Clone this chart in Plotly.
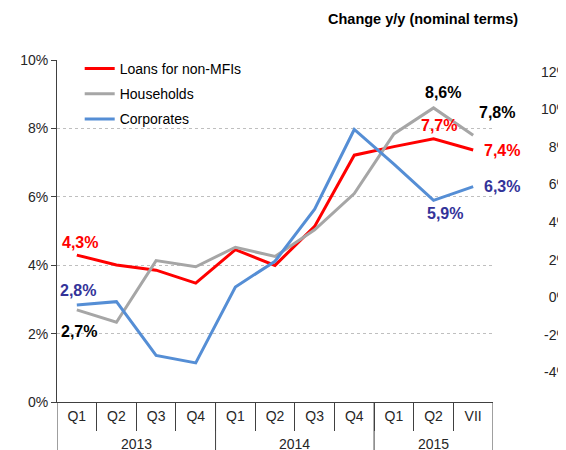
import plotly.graph_objects as go

years = ["2013"] * 4 + ["2014"] * 4 + ["2015"] * 3
periods = ["Q1", "Q2", "Q3", "Q4", "Q1", "Q2", "Q3", "Q4", "Q1", "Q2", "VII"]

loans = [4.3, 4.01, 3.86, 3.48, 4.46, 4.0, 5.14, 7.22, 7.47, 7.7, 7.37]
households = [2.7, 2.34, 4.14, 3.96, 4.53, 4.26, 5.04, 6.1, 7.84, 8.6, 7.8]
corporates = [2.84, 2.94, 1.37, 1.15, 3.37, 4.12, 5.64, 7.97, 6.96, 5.9, 6.3]

left_ticks = [0, 2, 4, 6, 8, 10]
right_ticks = [-6, -4, -2, 0, 2, 4, 6, 8, 10, 12]

FONT = "Liberation Sans, Arial, sans-serif"
RED = "#FF0000"
GRAY = "#A6A6A6"
BLUE = "#558ED5"
AX = "#404040"

n = len(periods)
xi = list(range(n))

fig = go.Figure()
fig.add_trace(go.Scatter(x=xi, y=loans, name="Loans for non-MFIs", mode="lines",
                         line=dict(color=RED, width=3), legendgroup="a"))
fig.add_trace(go.Scatter(x=xi, y=households, name="Households", mode="lines",
                         line=dict(color=GRAY, width=3), legendgroup="b"))
fig.add_trace(go.Scatter(x=xi, y=corporates, name="Corporates", mode="lines",
                         line=dict(color=BLUE, width=3), legendgroup="c"))
# carrier for the right-hand axis
fig.add_trace(go.Scatter(x=[0], y=[None], yaxis="y2",
                         showlegend=False, hoverinfo="skip", mode="lines"))


def lab(i, series, text, color, xs, ys):
    fig.add_annotation(x=i, y=series[i], xref="x", yref="y", text="<b>%s</b>" % text,
                       showarrow=False, xshift=xs, yshift=ys,
                       font=dict(family=FONT, size=16, color=color))


def fmt(v):
    return ("%.1f%%" % v).replace(".", ",")


lab(0, loans, fmt(loans[0]), RED, 3, 13)
lab(0, corporates, fmt(corporates[0]), "#333399", 1, 15)
lab(0, households, fmt(households[0]), "#000000", 2, -22)
lab(n - 2, households, fmt(households[n - 2]), "#000000", 9, 15)
lab(n - 2, loans, fmt(loans[n - 2]), RED, 5, 13)
lab(n - 2, corporates, fmt(corporates[n - 2]), "#333399", 11, -13)
lab(n - 1, households, fmt(households[n - 1]), "#000000", 24, 23)
lab(n - 1, loans, fmt(loans[n - 1]), RED, 29, 0)
lab(n - 1, corporates, fmt(corporates[n - 1]), "#333399", 29, 0)

# year group labels and dividers (derived from the years list)
groups = []
for i, yv in enumerate(years):
    if not groups or groups[-1][0] != yv:
        groups.append([yv, i, i])
    else:
        groups[-1][2] = i
Y_AXIS = 9.7 / 352
for yv, a, b in groups:
    fig.add_annotation(x=(a + b) / 2, y=-0.0909, xref="x", yref="paper", text=yv,
                       showarrow=False, yanchor="middle",
                       font=dict(family=FONT, size=14, color="#262626"))
bounds = [g[1] - 0.5 for g in groups] + [groups[-1][2] + 0.5]
for bx in bounds:
    fig.add_shape(type="line", xref="x", yref="paper", x0=bx, x1=bx,
                  y0=Y_AXIS, y1=-0.2, line=dict(color=AX, width=1))

fig.add_annotation(x=0.9096, y=1.1165, xref="paper", yref="paper", xanchor="right",
                   yanchor="middle", showarrow=False,
                   text="<b>Change y/y (nominal terms)</b>",
                   font=dict(family=FONT, size=14.5, color="#000000"))

fig.update_layout(
    width=558, height=442,
    margin=dict(l=49, r=0, t=52, b=38, autoexpand=False),
    paper_bgcolor="white", plot_bgcolor="rgba(0,0,0,0)",
    font=dict(family=FONT, size=14, color="#262626"),
    showlegend=True,
    legend=dict(x=0.0446, y=1.02, xanchor="left", yanchor="top", tracegroupgap=4,
                bgcolor="rgba(255,255,255,0)", font=dict(size=14, color="#000000")),
    xaxis=dict(domain=[0, 436 / 509], anchor="y",
               autorange=False, range=[-0.5, n - 0.5],
               tickvals=xi, ticktext=periods, ticks="",
               minor=dict(tickvals=[i + 0.5 for i in xi[:-1]], ticks="outside",
                          ticklen=28, tickcolor=AX, showgrid=False),
               showline=True, linecolor=AX, linewidth=1, ticklabelstandoff=1,
               showgrid=False, zeroline=False, automargin=False,
               tickfont=dict(size=14, color="#262626")),
    yaxis=dict(domain=[Y_AXIS, 1], range=[0, 10], tickvals=left_ticks,
               ticktext=["%d%%" % v for v in left_ticks],
               showline=True, linecolor=AX, linewidth=1,
               ticks="outside", ticklen=5, tickcolor=AX,
               showgrid=True, gridcolor="#BFBFBF", griddash="dot", gridwidth=1,
               zeroline=False, automargin=False,
               tickfont=dict(size=14, color="#262626")),
    yaxis2=dict(domain=[0, 1], anchor="free", position=1, side="right",
                range=[-6.106, 12.622], tickvals=right_ticks,
                ticktext=["%d%%" % v for v in right_ticks],
                showline=False, showgrid=False, zeroline=False, ticks="",
                ticklabelposition="inside", ticklabelstandoff=-6,
                automargin=False, tickfont=dict(size=14, color="#262626")),
)

fig.write_html("out.html")
